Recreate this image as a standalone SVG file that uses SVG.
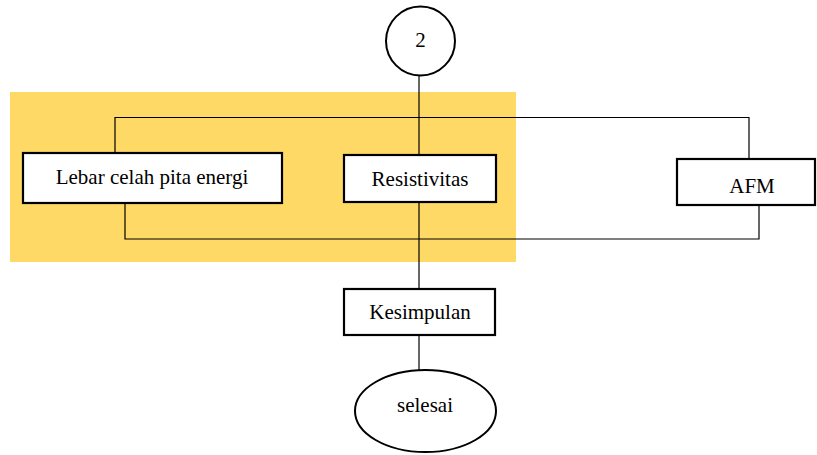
<svg xmlns="http://www.w3.org/2000/svg" width="817" height="455" viewBox="0 0 817 455">
  <style>
    .box { fill: #ffffff; stroke: #000000; stroke-width: 2.2; }
    .term { fill: #ffffff; stroke: #000000; stroke-width: 2; }
    .wire { fill: none; stroke: #000000; stroke-width: 1.2; }
    .lbl { font-family: "Liberation Serif", "Times New Roman", serif; font-size: 21px; fill: #000000; text-anchor: middle; dominant-baseline: central; }
  </style>

  <!-- highlighted region behind the measurement branch -->
  <rect id="highlight" x="10" y="92" width="506" height="170" fill="#fed966"/>

  <!-- connectors -->
  <g id="connectors">
    <line class="wire" x1="419" y1="75" x2="419" y2="370"/>
    <polyline class="wire" points="115,153 115,117.5 749,117.5 749,159"/>
    <polyline class="wire" points="125,203 125,239 759,239 759,205"/>
  </g>

  <g id="node-start">
    <circle class="term" cx="420.5" cy="41" r="34.5"/>
    <text class="lbl" x="420.5" y="40">2</text>
  </g>

  <g id="node-bandgap">
    <rect class="box" x="23" y="153" width="259" height="50"/>
    <text class="lbl" x="152" y="177">Lebar celah pita energi</text>
  </g>

  <g id="node-resistivity">
    <rect class="box" x="344" y="155" width="152" height="47"/>
    <text class="lbl" x="420" y="179">Resistivitas</text>
  </g>

  <g id="node-afm">
    <rect class="box" x="677" y="159" width="138" height="46"/>
    <text class="lbl" x="752" y="186">AFM</text>
  </g>

  <g id="node-conclusion">
    <rect class="box" x="344" y="289" width="151" height="46"/>
    <text class="lbl" x="420" y="312">Kesimpulan</text>
  </g>

  <g id="node-end">
    <ellipse class="term" cx="425.5" cy="411" rx="70.5" ry="41"/>
    <text class="lbl" x="425" y="405">selesai</text>
  </g>
</svg>
